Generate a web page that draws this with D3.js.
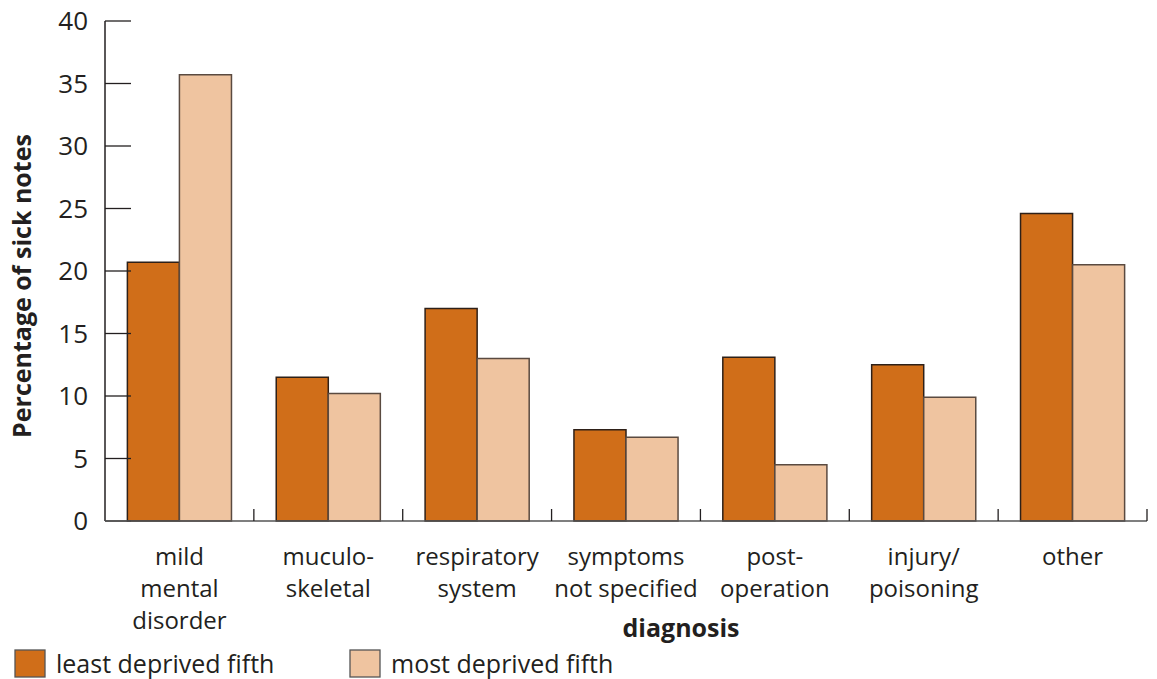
<!DOCTYPE html>
<html><head><meta charset="utf-8">
<script src="https://cdn.jsdelivr.net/npm/d3@7"></script>
<style>body{margin:0;background:#fff;} text{font-family:"Open Sans","Noto Sans",sans-serif;fill:#231f20;}</style>
</head><body>
<svg id="c" width="1157" height="679"></svg>
<script>
const categories = [["mild","mental","disorder"],["muculo-","skeletal"],["respiratory","system"],["symptoms","not specified"],["post-","operation"],["injury/","poisoning"],["other"]];
const seriesNames = ["least deprived fifth","most deprived fifth"];
const leastDeprived = [20.7, 11.5, 17.0, 7.3, 13.1, 12.5, 24.6];
const mostDeprived = [35.7, 10.2, 13.0, 6.7, 4.5, 9.9, 20.5];
const yTicks = [0,5,10,15,20,25,30,35,40];
const colors = ["#d06e19","#efc4a0"];

(function(){
const svg = d3.select("#c");
const mL = 105, mR = 1147, mT = 21, mB = 521;
const idx = categories.map((d,i)=>i);
const x = d3.scaleBand().domain(idx).range([mL, mR]).paddingInner(0).paddingOuter(0);
const y = d3.scaleLinear().domain([0,40]).range([mB, mT]);
const inner = d3.scaleBand().domain([0,1]).range([0, x.bandwidth()]).paddingInner(0).paddingOuter(0.43);

const data = [leastDeprived, mostDeprived];
const g = svg.append("g");
idx.forEach(i=>{
  data.forEach((s,k)=>{
    g.append("rect")
      .attr("x", x(i)+inner(k))
      .attr("y", y(s[i]))
      .attr("width", inner.bandwidth())
      .attr("height", y(0)-y(s[i]))
      .attr("fill", colors[k])
      .attr("stroke", k===0 ? "#2e2018" : "#5a4a40")
      .attr("stroke-width", 1.5);
  });
});

const ya = svg.append("g");
ya.append("line").attr("x1",mL).attr("x2",mL).attr("y1",mT).attr("y2",mB).attr("stroke","#231f20").attr("stroke-width",1.5);
yTicks.forEach(t=>{
  ya.append("line").attr("x1",mL).attr("x2",mL+26).attr("y1",y(t)).attr("y2",y(t)).attr("stroke","#231f20").attr("stroke-width",1.3);
  ya.append("text").attr("x",88).attr("y",y(t)+9).attr("text-anchor","end").style("font-size","26px").text(t);
});
const xa = svg.append("g");
xa.append("line").attr("x1",mL).attr("x2",mR).attr("y1",mB).attr("y2",mB).attr("stroke","#555").attr("stroke-width",1.5);
idx.forEach(i=>{
  const bx = x(i)+x.bandwidth();
  xa.append("line").attr("x1",bx).attr("x2",bx).attr("y1",mB).attr("y2",mB-12).attr("stroke","#231f20").attr("stroke-width",1.3);
  const t = xa.append("text").attr("text-anchor","middle").style("font-size","24px");
  categories[i].forEach((ln,j)=>{
    t.append("tspan").attr("x", x(i)+x.bandwidth()/2).attr("y", 565 + j*32).text(ln);
  });
});
svg.append("text").attr("x",681).attr("y",637).attr("text-anchor","middle").style("font-size","25px").style("font-weight","bold").text("diagnosis");
svg.append("text").attr("transform","translate(31,286) rotate(-90)").attr("text-anchor","middle").style("font-size","25px").style("font-weight","bold").text("Percentage of sick notes");

const lx = [15, 350];
seriesNames.forEach((n,k)=>{
  svg.append("rect").attr("x",lx[k]).attr("y",650).attr("width",30).attr("height",27).attr("fill",colors[k]).attr("stroke","#555").attr("stroke-width",1.3);
  svg.append("text").attr("x",lx[k]+41).attr("y",673).style("font-size","25px").text(n);
});
})();
</script>
</body></html>
